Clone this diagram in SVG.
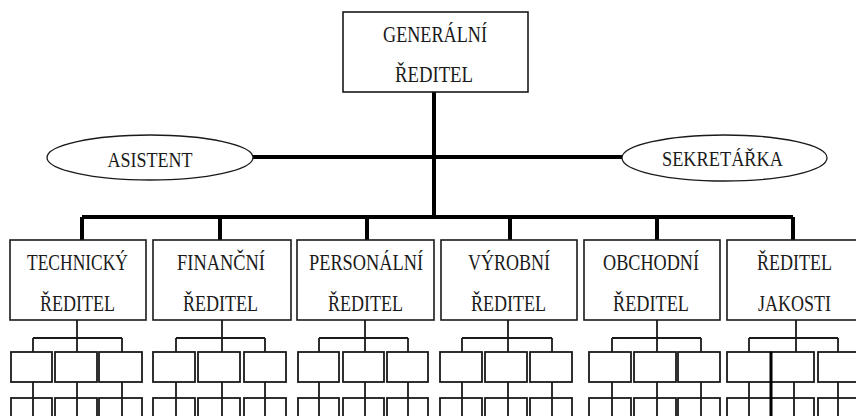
<svg xmlns="http://www.w3.org/2000/svg" width="856" height="416" viewBox="0 0 856 416">
<style>
.bg{fill:#fff}
.box{fill:#fff;stroke:#1a1a1a;stroke-width:1.6}
.sbox{fill:#fff;stroke:#1a1a1a;stroke-width:1.8}
.ell{fill:#fff;stroke:#1a1a1a;stroke-width:1.3}
.thick{fill:none;stroke:#000;stroke-width:4}
.thin{fill:none;stroke:#1a1a1a;stroke-width:1.8}
text{font-family:"Liberation Serif","DejaVu Serif",serif;font-size:23px;fill:#1a1a1a;text-anchor:middle}
.et{font-size:21px}
</style>
<rect class="bg" x="0" y="0" width="856" height="416"/>

<g id="connectors">
  <path class="thick" d="M434 92V217M253 157H622M82 217H793M82 217V240M220 217V240M367 217V240M510 217V240M657 217V240M793 217V240"/>
  <path class="thin" d="M77 320V338M33 338H122M33 338V352M77 338V352M122 338V352"/>
  <path class="thin" d="M222 320V338M176 338H265M176 338V352M222 338V352M265 338V352"/>
  <path class="thin" d="M365 320V338M319 338H408M319 338V352M365 338V352M408 338V352"/>
  <path class="thin" d="M508 320V338M462 338H552M462 338V352M508 338V352M552 338V352"/>
  <path class="thin" d="M657 320V338M612 338H701M612 338V352M657 338V352M701 338V352"/>
  <path class="thin" d="M796 320V338M749 338H838M749 338V352M796 338V352M838 338V352"/>
</g>

<g id="generalni-reditel">
  <rect class="box" x="343" y="12" width="185" height="80"/>
  <text x="435" y="42" textLength="104" lengthAdjust="spacingAndGlyphs">GENERÁLNÍ</text>
  <text x="434" y="82" textLength="78" lengthAdjust="spacingAndGlyphs">ŘEDITEL</text>
</g>

<g id="asistent">
  <ellipse class="ell" cx="150" cy="157.5" rx="103" ry="22.5"/>
  <text class="et" x="150" y="167" textLength="85" lengthAdjust="spacingAndGlyphs">ASISTENT</text>
</g>

<g id="sekretarka">
  <ellipse class="ell" cx="724.5" cy="158" rx="102.5" ry="23"/>
  <text class="et" x="722.5" y="166" textLength="121" lengthAdjust="spacingAndGlyphs">SEKRETÁŘKA</text>
</g>

<g id="technicky-reditel">
  <rect class="box" x="10" y="240" width="136" height="80"/>
  <text x="77.5" y="270" textLength="101" lengthAdjust="spacingAndGlyphs">TECHNICKÝ</text>
  <text x="77.5" y="311" textLength="75" lengthAdjust="spacingAndGlyphs">ŘEDITEL</text>
</g>
<g id="financni-reditel">
  <rect class="box" x="153" y="240" width="138" height="80"/>
  <text x="221" y="270" textLength="88" lengthAdjust="spacingAndGlyphs">FINANČNÍ</text>
  <text x="220.5" y="311" textLength="75" lengthAdjust="spacingAndGlyphs">ŘEDITEL</text>
</g>
<g id="personalni-reditel">
  <rect class="box" x="297" y="240" width="137" height="80"/>
  <text x="366" y="270" textLength="114" lengthAdjust="spacingAndGlyphs">PERSONÁLNÍ</text>
  <text x="365.5" y="311" textLength="75" lengthAdjust="spacingAndGlyphs">ŘEDITEL</text>
</g>
<g id="vyrobni-reditel">
  <rect class="box" x="441" y="240" width="136" height="80"/>
  <text x="509" y="270" textLength="82" lengthAdjust="spacingAndGlyphs">VÝROBNÍ</text>
  <text x="508.5" y="311" textLength="75" lengthAdjust="spacingAndGlyphs">ŘEDITEL</text>
</g>
<g id="obchodni-reditel">
  <rect class="box" x="584" y="240" width="136" height="80"/>
  <text x="651" y="270" textLength="96" lengthAdjust="spacingAndGlyphs">OBCHODNÍ</text>
  <text x="651" y="311" textLength="76" lengthAdjust="spacingAndGlyphs">ŘEDITEL</text>
</g>
<g id="reditel-jakosti">
  <rect class="box" x="727" y="240" width="140" height="80"/>
  <text x="794.5" y="270" textLength="75" lengthAdjust="spacingAndGlyphs">ŘEDITEL</text>
  <text x="794.5" y="311" textLength="73" lengthAdjust="spacingAndGlyphs">JAKOSTI</text>
</g>

<g id="technicky-utvary">
  <rect class="sbox" x="11" y="352" width="41" height="30"/>
  <rect class="sbox" x="55" y="352" width="42" height="30"/>
  <rect class="sbox" x="99" y="352" width="43" height="30"/>
  <rect class="sbox" x="11" y="398" width="41" height="30"/>
  <rect class="sbox" x="55" y="398" width="42" height="30"/>
  <rect class="sbox" x="99" y="398" width="43" height="30"/>
</g>
<g id="financni-utvary">
  <rect class="sbox" x="153" y="352" width="42" height="30"/>
  <rect class="sbox" x="198" y="352" width="42" height="30"/>
  <rect class="sbox" x="244" y="352" width="42" height="30"/>
  <rect class="sbox" x="153" y="398" width="42" height="30"/>
  <rect class="sbox" x="198" y="398" width="42" height="30"/>
  <rect class="sbox" x="244" y="398" width="42" height="30"/>
</g>
<g id="personalni-utvary">
  <rect class="sbox" x="298" y="352" width="41" height="30"/>
  <rect class="sbox" x="343" y="352" width="41" height="30"/>
  <rect class="sbox" x="387" y="352" width="41" height="30"/>
  <rect class="sbox" x="298" y="398" width="41" height="30"/>
  <rect class="sbox" x="343" y="398" width="41" height="30"/>
  <rect class="sbox" x="387" y="398" width="41" height="30"/>
</g>
<g id="vyrobni-utvary">
  <rect class="sbox" x="440" y="352" width="42" height="30"/>
  <rect class="sbox" x="485" y="352" width="42" height="30"/>
  <rect class="sbox" x="530" y="352" width="42" height="30"/>
  <rect class="sbox" x="440" y="398" width="42" height="30"/>
  <rect class="sbox" x="485" y="398" width="42" height="30"/>
  <rect class="sbox" x="530" y="398" width="42" height="30"/>
</g>
<g id="obchodni-utvary">
  <rect class="sbox" x="589" y="352" width="42" height="30"/>
  <rect class="sbox" x="634" y="352" width="42" height="30"/>
  <rect class="sbox" x="678" y="352" width="42" height="30"/>
  <rect class="sbox" x="589" y="398" width="42" height="30"/>
  <rect class="sbox" x="634" y="398" width="42" height="30"/>
  <rect class="sbox" x="678" y="398" width="42" height="30"/>
</g>
<g id="jakost-utvary">
  <rect class="sbox" x="727" y="352" width="44" height="30"/>
  <rect class="sbox" x="771" y="352" width="43" height="30"/>
  <rect class="sbox" x="818" y="352" width="44" height="30"/>
  <rect class="sbox" x="727" y="398" width="44" height="30"/>
  <rect class="sbox" x="771" y="398" width="43" height="30"/>
  <rect class="sbox" x="818" y="398" width="44" height="30"/>
  <path fill="none" stroke="#000" stroke-width="3" d="M771 352V416"/>
</g>

<g id="connectors-lower">
  <path class="thin" d="M33 382V416M77 382V416M122 382V416M176 382V416M222 382V416M265 382V416M319 382V416M365 382V416M408 382V416M462 382V416M508 382V416M552 382V416M612 382V416M657 382V416M701 382V416M749 382V416M794 382V416M838 382V416"/>
</g>
</svg>
